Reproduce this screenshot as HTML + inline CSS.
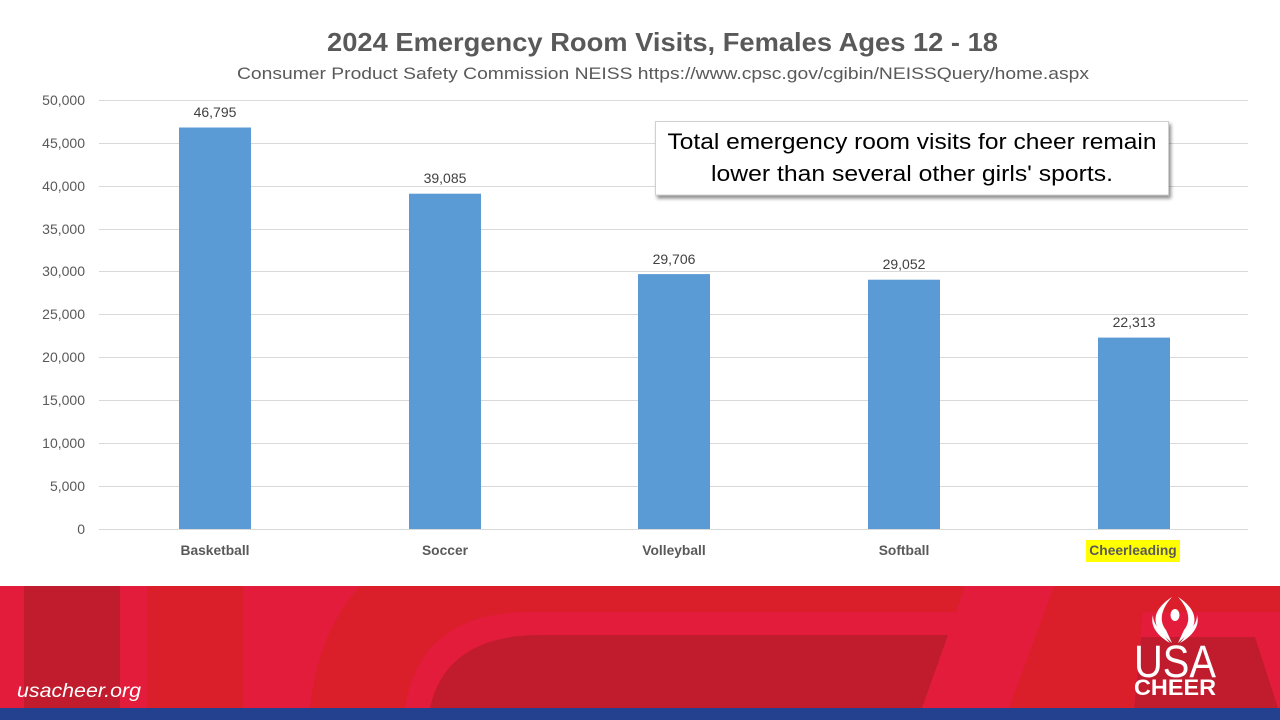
<!DOCTYPE html>
<html>
<head>
<meta charset="utf-8">
<style>
html,body{margin:0;padding:0;background:#fff;}
svg{display:block;}
text{font-family:"Liberation Sans",Arial,sans-serif;}
</style>
</head>
<body>
<svg width="1280" height="720" viewBox="0 0 1280 720" xmlns="http://www.w3.org/2000/svg">
  <defs>
    <filter id="sh" x="-5%" y="-20%" width="110%" height="150%">
      <feDropShadow dx="2" dy="3" stdDeviation="1.8" flood-color="#000" flood-opacity="0.45"/>
    </filter>
  </defs>
  <rect x="0" y="0" width="1280" height="720" fill="#ffffff"/>

  <!-- Title -->
  <text x="662.5" y="51" text-anchor="middle" font-size="26" font-weight="bold" fill="#595959" textLength="671" lengthAdjust="spacingAndGlyphs">2024 Emergency Room Visits, Females Ages 12 - 18</text>
  <text x="663" y="79" text-anchor="middle" font-size="17" fill="#595959" textLength="852" lengthAdjust="spacingAndGlyphs">Consumer Product Safety Commission NEISS https://www.cpsc.gov/cgibin/NEISSQuery/home.aspx</text>

  <!-- Gridlines -->
  <g stroke="#d9d9d9" stroke-width="1">
    <line x1="99" y1="100.5" x2="1248" y2="100.5"/>
    <line x1="99" y1="143.5" x2="1248" y2="143.5"/>
    <line x1="99" y1="186.5" x2="1248" y2="186.5"/>
    <line x1="99" y1="229.5" x2="1248" y2="229.5"/>
    <line x1="99" y1="271.5" x2="1248" y2="271.5"/>
    <line x1="99" y1="314.5" x2="1248" y2="314.5"/>
    <line x1="99" y1="357.5" x2="1248" y2="357.5"/>
    <line x1="99" y1="400.5" x2="1248" y2="400.5"/>
    <line x1="99" y1="443.5" x2="1248" y2="443.5"/>
    <line x1="99" y1="486.5" x2="1248" y2="486.5"/>
    <line x1="99" y1="529.5" x2="1248" y2="529.5"/>
  </g>

  <!-- Y tick labels -->
  <g font-size="14" fill="#595959" text-anchor="end">
    <text x="85" y="105">50,000</text>
    <text x="85" y="148">45,000</text>
    <text x="85" y="191">40,000</text>
    <text x="85" y="234">35,000</text>
    <text x="85" y="276">30,000</text>
    <text x="85" y="319">25,000</text>
    <text x="85" y="362">20,000</text>
    <text x="85" y="405">15,000</text>
    <text x="85" y="448">10,000</text>
    <text x="85" y="491">5,000</text>
    <text x="85" y="534">0</text>
  </g>

  <!-- Bars -->
  <g fill="#5b9bd5">
    <rect x="179" y="127.5" width="72" height="401.5"/>
    <rect x="409" y="193.7" width="72" height="335.3"/>
    <rect x="638" y="274.1" width="72" height="254.9"/>
    <rect x="868" y="279.7" width="72" height="249.3"/>
    <rect x="1098" y="337.6" width="72" height="191.4"/>
  </g>

  <!-- Data labels -->
  <g font-size="14" fill="#404040" text-anchor="middle">
    <text x="215" y="117">46,795</text>
    <text x="445" y="183">39,085</text>
    <text x="674" y="264">29,706</text>
    <text x="904" y="269">29,052</text>
    <text x="1134" y="327">22,313</text>
  </g>

  <!-- Category labels -->
  <rect x="1086" y="540" width="94" height="22" fill="#ffff00"/>
  <g font-size="13.8" font-weight="bold" fill="#595959" text-anchor="middle">
    <text x="215" y="555">Basketball</text>
    <text x="445" y="555">Soccer</text>
    <text x="674" y="555">Volleyball</text>
    <text x="904" y="555">Softball</text>
    <text x="1133" y="555">Cheerleading</text>
  </g>

  <!-- Annotation box -->
  <rect x="655.5" y="121.5" width="513" height="73.5" fill="#ffffff" stroke="#d0d0d0" stroke-width="1" filter="url(#sh)"/>
  <text x="912" y="149" text-anchor="middle" font-size="22" fill="#000" textLength="489" lengthAdjust="spacingAndGlyphs">Total emergency room visits for cheer remain</text>
  <text x="912" y="181" text-anchor="middle" font-size="22" fill="#000" textLength="402" lengthAdjust="spacingAndGlyphs">lower than several other girls' sports.</text>

  <!-- Footer -->
  <rect x="0" y="586" width="1280" height="122" fill="#da1f2a"/>
  <rect x="0" y="586" width="24" height="122" fill="#e31c3b"/>
  <rect x="24" y="586" width="96" height="122" fill="#c01c2e"/>
  <rect x="120" y="586" width="27" height="122" fill="#e31c3b"/>
  <path d="M243,586 L360,586 Q318,632 310,708 L243,708 Z" fill="#e31c3b"/>
  <path d="M405,708 C415,645 455,612 530,612 L956,612 L965,586 L1054,586 L1009,708 Z" fill="#e31c3b"/>
  <path d="M430,708 C440,662 475,635 540,635 L948,635 L922,708 Z" fill="#c01c2e"/>
  <path d="M1143,612 L1280,612 L1280,708 L1133,708 Z" fill="#e31c3b"/>
  <path d="M1141,637 L1255,637 L1278,708 L1134,708 Z" fill="#c01c2e"/>
  <rect x="0" y="708" width="1280" height="12" fill="#24418f"/>

  <text x="17" y="697" font-size="19" font-style="italic" fill="#ffffff" textLength="124" lengthAdjust="spacingAndGlyphs">usacheer.org</text>

  <!-- Logo -->
  <g fill="#ffffff" stroke="none">
    <ellipse cx="1175" cy="615" rx="4.5" ry="6"/>
    <path d="M1172,597 C1158,606 1150,618 1160,632 L1172,643 L1166,630 C1158,620 1162,608 1172,597 Z"/>
    <path d="M1178,597 C1192,606 1200,618 1190,632 L1178,643 L1184,630 C1192,620 1188,608 1178,597 Z"/>
    <path d="M1153,615 C1150,625 1156,635 1170,643 L1160,630 C1155,625 1153,620 1153,615 Z"/>
    <path d="M1197,615 C1200,625 1194,635 1180,643 L1190,630 C1195,625 1197,620 1197,615 Z"/>
  </g>
  <text x="1134" y="677" font-size="45" font-weight="normal" fill="#ffffff" textLength="82" lengthAdjust="spacingAndGlyphs">USA</text>
  <text x="1134" y="695" font-size="22" font-weight="bold" fill="#ffffff" textLength="82" lengthAdjust="spacingAndGlyphs">CHEER</text>
</svg>
</body>
</html>
